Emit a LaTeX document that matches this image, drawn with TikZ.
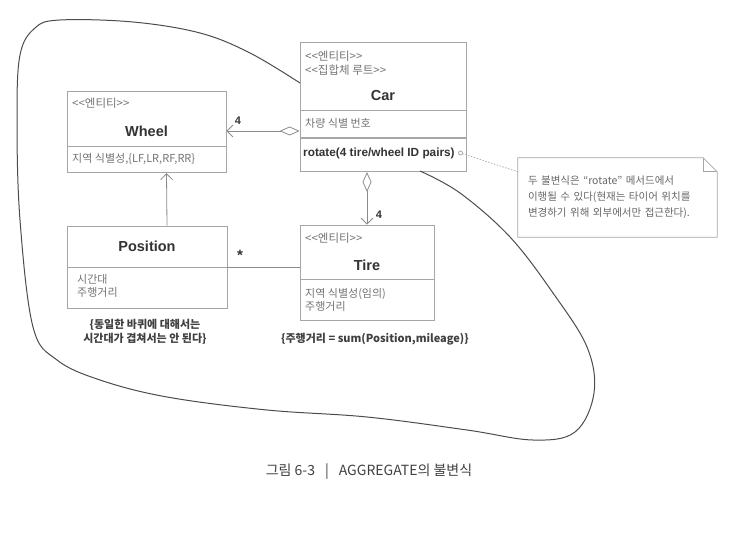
\documentclass[tikz,border=0pt]{standalone}
\usepackage{fontspec}
\setmainfont{Noto Sans CJK KR}
\newfontfamily\latinsans{Liberation Sans}
\usepackage{tikz}
\usetikzlibrary{arrows.meta,calc,positioning}
\newcommand{\stereotag}[1]{\hbox{<}\hbox{<}#1\hbox{>}\hbox{>}}

\begin{document}
\begin{tikzpicture}[
  x=1pt, y=-1pt,
  part/.style={draw=black!35, line width=.8pt, inner sep=0pt},
  stereo/.style={font=\fontsize{11.5}{12}\selectfont, text=black!55,
                 anchor=west, inner sep=0pt},
  classname/.style={font=\latinsans\bfseries\fontsize{14.5}{16}\selectfont,
                    text=black!80, inner sep=0pt},
  attr/.style={font=\fontsize{11}{12.5}\selectfont, text=black!55,
               anchor=west, inner sep=0pt, align=left},
  method/.style={font=\latinsans\bfseries\fontsize{11.8}{13}\selectfont,
                 text=black!80, anchor=west, inner sep=0pt},
  mult/.style={font=\latinsans\bfseries\fontsize{11}{13}\selectfont,
               text=black!80, inner sep=0pt},
  agg/.style={{Diamond[open,length=20pt,width=9pt]}-{Straight Barb[length=6pt,width=12pt]},
              draw=black!45, line width=.8pt},
  link/.style={draw=black!45, line width=.8pt},
  notelink/.style={draw=black!35, line width=.7pt, dash pattern=on 1.5pt off 1.5pt},
  rule/.style={font=\bfseries\fontsize{11}{14}\selectfont, text=black!75,
               align=center, inner sep=0pt},
  blob/.style={draw=black!70, line width=1pt}
]
  \useasboundingbox (0,0) rectangle (752,534);

  % Car, the aggregate root.
  \node[part, minimum width=166pt, minimum height=68pt] (car-head) at (383,76) {};
  \node[part, minimum width=166pt, minimum height=27pt, anchor=north] (car-attr) at (car-head.south) {};
  \node[part, minimum width=166pt, minimum height=33pt, anchor=north] (car-ops) at (car-attr.south) {};
  \node[stereo] (car-st1) at (305,56) {\stereotag{엔티티}};
  \node[stereo] (car-st2) at (305,70) {\stereotag{집합체 루트}};
  \node[classname] (car-name) at (383,96) {Car};
  \node[attr] (car-id) at (305,123) {차량 식별 번호};
  \node[method] (car-rot) at (303,153) {rotate(4 tire/wheel ID pairs)};

  % Wheel.
  \node[part, minimum width=159pt, minimum height=55pt] (wheel-head) at (146.5,118.5) {};
  \node[part, minimum width=159pt, minimum height=26pt, anchor=north] (wheel-attr) at (wheel-head.south) {};
  \node[stereo] (wheel-st) at (72,103) {\stereotag{엔티티}};
  \node[classname] (wheel-name) at (146.5,131) {Wheel};
  \node[attr] (wheel-id) at (72,159) {지역 식별성,\{LF,LR,RF,RR\}};

  % Position.
  \node[part, minimum width=160pt, minimum height=41pt] (pos-head) at (147,246.5) {};
  \node[part, minimum width=160pt, minimum height=41pt, anchor=north] (pos-attr) at (pos-head.south) {};
  \node[classname] (pos-name) at (147,246) {Position};
  \node[attr] (pos-data) at (77,286) {시간대\\주행거리};

  % Tire.
  \node[part, minimum width=134pt, minimum height=54pt] (tire-head) at (367,252) {};
  \node[part, minimum width=134pt, minimum height=41pt, anchor=north] (tire-attr) at (tire-head.south) {};
  \node[stereo] (tire-st) at (305,238) {\stereotag{엔티티}};
  \node[classname] (tire-name) at (367,265) {Tire};
  \node[attr] (tire-data) at (305,300) {지역 식별성(임의)\\주행거리};

  % Associations.
  \draw[agg] (car-attr.west |- wheel-name) -- (wheel-head.east |- wheel-name);
  \node[mult] (wheel-mult) at (238,121) {4};
  \draw[agg] (car-ops.south -| tire-head.north) -- (tire-head.north);
  \node[mult] (tire-mult) at (379,215) {4};
  \draw[link, -{Straight Barb[length=6pt,width=12pt]}]
    ([xshift=20pt]pos-head.north) -- ([xshift=20pt]wheel-attr.south);
  \draw[link] (pos-head.south east) -- (pos-head.south east -| tire-head.west);
  \node[mult, font=\latinsans\bfseries\fontsize{15}{16}\selectfont] (pos-mult) at (240,255) {*};

  % Invariants.
  \node[rule] (pos-rule) at (145,332) {\{동일한 바퀴에 대해서는\\시간대가 겹쳐서는 안 된다\}};
  \node[rule] (tire-rule) at (375,339) {\{주행거리 = sum(Position,mileage)\}};

  % Note on rotate.
  \node[font=\fontsize{10.5}{16}\selectfont, text=black!60, align=left,
        text width=179pt, inner xsep=10pt, inner ysep=0pt,
        minimum width=199pt, minimum height=79pt] (note) at (617.5,197.5)
    {두 불변식은 “rotate” 메서드에서\\이행될 수 있다(현재는 타이어 위치를\\변경하기 위해 외부에서만 접근한다).};
  \draw[part] (note.north west) -- ([xshift=-14pt]note.north east)
    -- ([yshift=-14pt]note.north east) -- (note.south east)
    -- (note.south west) -- cycle;
  \draw[part] ([xshift=-14pt]note.north east) -- ([xshift=-14pt,yshift=-14pt]note.north east)
    -- ([yshift=-14pt]note.north east);
  \coordinate (rot-pin) at (460.5,153);
  \draw[part] (rot-pin) circle (2pt);
  \draw[notelink, shorten <=2pt] (rot-pin) -- ([yshift=-14pt]note.north west);

  % Aggregate boundary.
  \draw[blob] plot[smooth, tension=0.6] coordinates {
    (420,171) (460,193) (510,237) (553,293) (587,347) (594,393) (575,432)
    (533,440) (467,430) (367,417) (267,410) (167,397) (100,380) (57,360)
    (33,327) (20,220) (17,120) (20,55) (35,28) (60,20) (133,22) (200,33)
    (250,53) (300,83)};

  \node[font=\fontsize{14}{16}\selectfont, text=black!75] (fig-caption) at (369,472)
    {그림 6-3\hspace{10pt}|\hspace{10pt}AGGREGATE의 불변식};
\end{tikzpicture}
\end{document}
